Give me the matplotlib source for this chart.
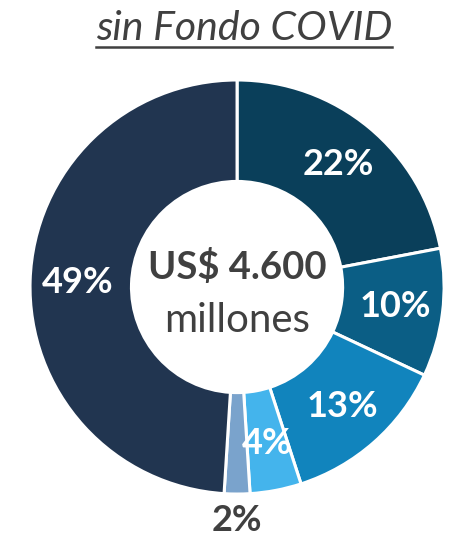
import matplotlib
matplotlib.use("Agg")
import matplotlib.pyplot as plt

plt.rcParams['font.family'] = ['Lato', 'DejaVu Sans']

# Data
categories = ["A", "B", "C", "D", "E", "F"]
shares = [22, 10, 13, 4, 2, 49]
colors = ["#0a3f5a", "#0b5e85", "#1184bd", "#44b4ec", "#7aa3cc", "#213550"]
title = "sin Fondo COVID"
total_text = "US$ 4.600"
unit_text = "millones"

fig = plt.figure(figsize=(4.55, 5.4), dpi=100)
ax = fig.add_axes([0.066, 0.085, 0.91, 0.767])

wedges, texts, pcts = ax.pie(
    shares, colors=colors, startangle=90, counterclock=False,
    autopct="%d%%", pctdistance=0.77,
    wedgeprops=dict(width=0.49, edgecolor="white", linewidth=2.2),
    textprops=dict(color="white", fontsize=26, fontweight="bold"),
)

# small slice label sits outside the ring
small = shares.index(2)
x, y = pcts[small].get_position()
pcts[small].set_position((x / 0.77 * 1.13, y / 0.77 * 1.13))
pcts[small].set_color("#404040")
pcts[small].set_clip_on(False)

ax.text(0, 0.095, total_text, ha="center", va="center",
        fontsize=27.5, fontweight="bold", color="#404040")
ax.text(0, -0.16, unit_text, ha="center", va="center",
        fontsize=29, color="#404040")
ax.set_xlim(-1, 1)
ax.set_ylim(-1, 1)
ax.set_aspect("equal")

# underlined italic title
fig.text(0.537, 0.948, title, ha="center", va="center",
         fontsize=29.5, style="italic", color="#404040")
fig.add_artist(plt.Line2D([0.211, 0.862], [0.913, 0.913],
                          color="#404040", linewidth=1.8))

fig.savefig("out.png", dpi=100)
